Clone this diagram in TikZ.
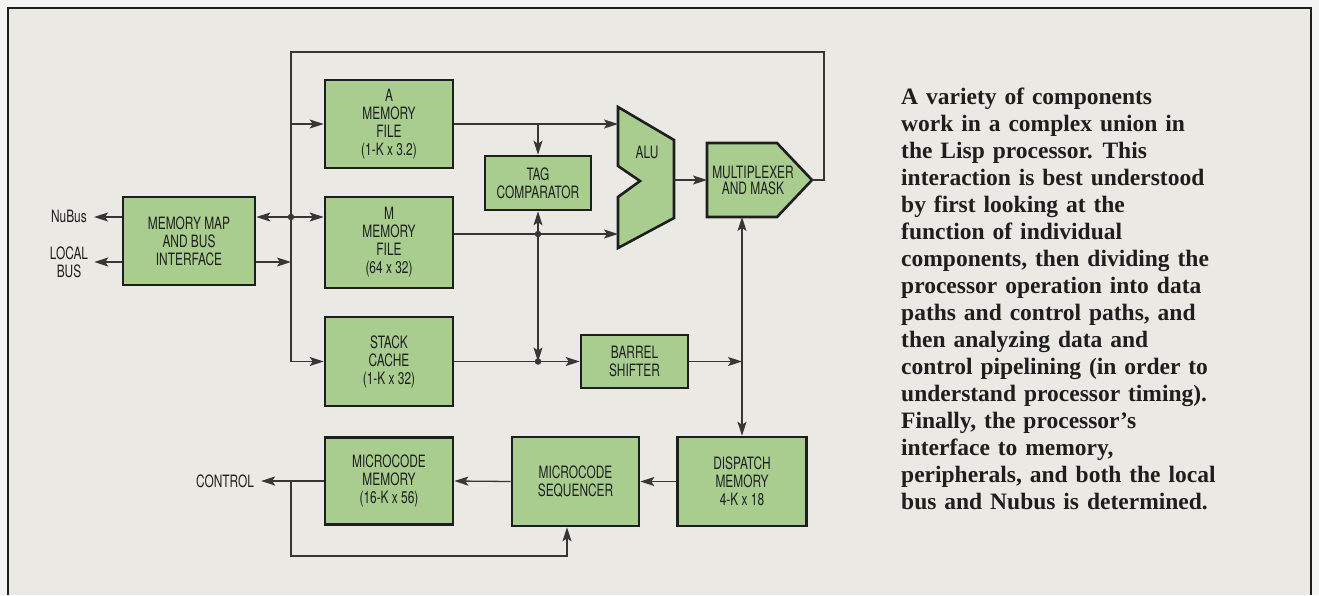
\documentclass[tikz,border=0pt]{standalone}
\usepackage{fontspec}
\setmainfont{Liberation Serif}
\newfontfamily\boxfont[FakeStretch=0.7]{TeX Gyre Heros}
\newfontfamily\notefont[WordSpace=1.35]{Liberation Serif}
\usetikzlibrary{arrows.meta,calc}
\definecolor{pagebg}{HTML}{F4F4F2}
\definecolor{framebg}{HTML}{EAE9E4}
\definecolor{boxgreen}{HTML}{A9CD8F}
\definecolor{ink}{HTML}{1E1E1E}
\definecolor{wirec}{HTML}{363636}
\begin{document}
\begin{tikzpicture}[x=1pt,y=-1pt,
  blk/.style={draw=ink, line width=2.6pt, fill=boxgreen, inner sep=0pt,
    font=\boxfont\fontsize{17}{18}\selectfont, text=ink, align=center},
  blkshape/.style={draw=ink, line width=2.6pt, fill=boxgreen, line join=miter},
  lbl/.style={font=\boxfont\fontsize{17}{18}\selectfont, text=ink, align=center, inner sep=0pt},
  wire/.style={draw=wirec, line width=1.3pt},
  tip/.tip={Stealth[length=14pt,width=9pt,inset=3pt]},
  arr/.style={wire, -tip},
  dbl/.style={wire, tip-tip},
  jdot/.style={circle, fill=wirec, inner sep=0pt, minimum size=6.5pt}]
\useasboundingbox (0,0) rectangle (1319,595);
\fill[pagebg] (0,0) rectangle (1319,595);
\fill[framebg] (8,8) rectangle (1311,595);
\draw[ink, line width=2pt] (8,595) -- (8,8) -- (1311,8) -- (1311,595);

% boxes
\node[blk, minimum width=132pt, minimum height=88pt] (mm) at (189,241) {MEMORY MAP\\AND BUS\\INTERFACE};
\node[blk, minimum width=128pt, minimum height=88pt] (afile) at (389,124) {A\\MEMORY\\FILE\\(1-K x 3.2)};
\node[blk, minimum width=128pt, minimum height=91pt] (mfile) at (389,242.5) {M\\MEMORY\\FILE\\(64 x 32)};
\node[blk, minimum width=128pt, minimum height=89pt] (stack) at (389,361.5) {STACK\\CACHE\\(1-K x 32)};
\node[blk, minimum width=128pt, minimum height=87pt] (mcm) at (389,481) {MICROCODE\\MEMORY\\(16-K x 56)};
\node[blk, minimum width=106pt, minimum height=54pt] (tag) at (538,183) {TAG\\COMPARATOR};
\node[blk, minimum width=107pt, minimum height=53pt] (barrel) at (634.5,361.5) {BARREL\\SHIFTER};
\node[blk, minimum width=127pt, minimum height=89pt] (seq) at (575.5,481.5) {MICROCODE\\SEQUENCER};
\node[blk, minimum width=129pt, minimum height=89pt] (disp) at (742,481.5) {DISPATCH\\MEMORY\\4-K x 18};

% ALU and multiplexer
\draw[blkshape] (618,107) -- (674,140) -- (674,218) -- (618,248) -- (618,197) -- (640,181) -- (618,166) -- cycle;
\node[lbl] (alu) at (647,152) {ALU};
\draw[blkshape] (707,143) -- (777,143) -- (812,180) -- (777,217) -- (707,217) -- cycle;
\node[lbl, font=\boxfont\fontsize{17}{16}\selectfont] (mux) at (753,180) {MULTIPLEXER\\AND MASK};

% outside labels
\node[lbl, anchor=east] (nubus) at (87,216) {NuBus};
\node[lbl] (localbus) at (69,262) {LOCAL\\BUS};
\node[lbl] (control) at (225,481) {CONTROL};

% junctions
\coordinate (aluInA) at (618,124);
\coordinate (aluInM) at (618,234);
\coordinate (aluOut) at (674,180);
\coordinate (muxIn) at (707,180);
\coordinate (muxTip) at (812,180);
\coordinate (muxBot) at (742,217);
\coordinate (fbR) at (824,52);
\coordinate (fbL) at (291,52);
\coordinate (busM) at (291,217);
\coordinate (busL) at (291,262);
\coordinate (tagA) at (538,124);
\coordinate (tagM) at (538,234);
\coordinate (stackJ) at (538,361.5);
\coordinate (ctlJ) at (291,481);
\coordinate (loopY) at (291,556);
\coordinate (seqIn) at ($(seq.south)+(-8.5,0)$);

% connectors
\draw[arr] (muxTip) -- (muxTip -| fbR) -- (fbR) -- (fbL) -- (fbL |- stack.west) -- (stack.west);
\draw[arr] (fbL |- afile.west) -- (afile.west);
\draw[dbl] (mm.east |- busM) -- (mfile.west |- busM);
\draw[arr] (mm.east |- busL) -- (busL);
\draw[arr, shorten >=7pt] (mm.west |- busM) -- (nubus.east |- busM);
\draw[arr, shorten >=6pt] (mm.west |- busL) -- (localbus.east |- busL);
\draw[arr] (afile.east) -- (aluInA);
\draw[arr] (tagA) -- (tag.north);
\draw[arr] (mfile.east |- tagM) -- (aluInM);
\draw[arr] (tagM) -- (tag.south);
\draw[arr] (tagM) -- (stackJ);
\draw[arr] (stack.east) -- (barrel.west);
\draw[arr] (barrel.east) -- (barrel.east -| muxBot);
\draw[dbl] (muxBot) -- (disp.north);
\draw[arr] (aluOut) -- (muxIn);
\draw[arr] (disp.west) -- (seq.east);
\draw[arr] (seq.west) -- (mcm.east);
\draw[arr, shorten >=7pt] (mcm.west) -- (control.east);
\draw[arr] (ctlJ) -- (loopY) -- (loopY -| seqIn) -- (seqIn);
\node[jdot] (d1) at (busM) {};
\node[jdot] (d2) at (tagM) {};
\node[jdot] (d3) at (stackJ) {};

% caption text
\node[anchor=north west, align=left, inner sep=0pt, text=ink,
  font=\notefont\bfseries\fontsize{23.5}{27}\selectfont] (note) at (901,88)
{A variety of components\\
work in a complex union in\\
the Lisp processor. This\\
interaction is best understood\\
by first looking at the\\
function of individual\\
components, then dividing the\\
processor operation into data\\
paths and control paths, and\\
then analyzing data and\\
control pipelining (in order to\\
understand processor timing).\\
Finally, the processor’s\\
interface to memory,\\
peripherals, and both the local\\
bus and Nubus is determined.};
\end{tikzpicture}
\end{document}
